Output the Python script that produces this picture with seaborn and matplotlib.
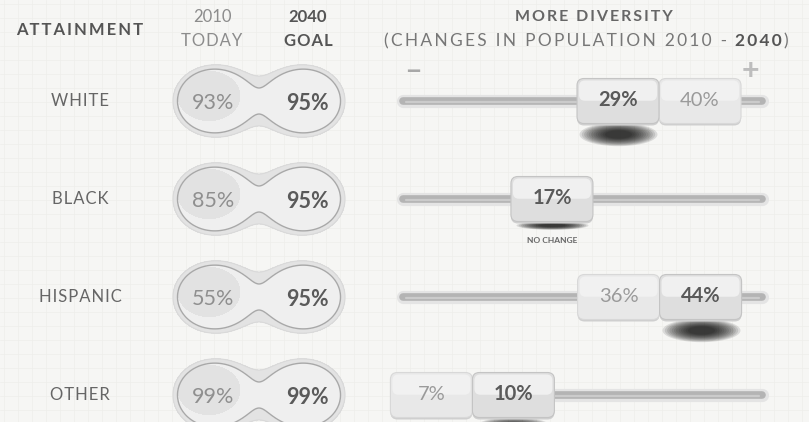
import numpy as np
import pandas as pd
import matplotlib
matplotlib.use("Agg")
import matplotlib.pyplot as plt
from matplotlib.patches import FancyBboxPatch
from matplotlib.path import Path
import seaborn as sns

groups = ["WHITE", "BLACK", "HISPANIC", "OTHER"]
attain_2010 = [93, 85, 55, 99]
attain_2040 = [95, 95, 95, 99]
share_2010 = [40, 17, 36, 7]
share_2040 = [29, 17, 44, 10]

df = pd.DataFrame({"group": groups, "att10": attain_2010, "att40": attain_2040,
                   "sh10": share_2010, "sh40": share_2040})

sns.set_theme(style="white")
plt.rcParams["font.family"] = ["Lato", "DejaVu Sans"]

W, H = 809, 422
fig = plt.figure(figsize=(W / 100, H / 100), dpi=100)
fig.patch.set_facecolor("#f6f6f4")

ax = fig.add_axes([0, 0, 1, 1])
ax.set_xlim(0, W)
ax.set_ylim(H, 0)
ax.axis("off")

# faint graph paper texture
for g in np.arange(4, W, 14):
    ax.axvline(g, color="#eeeeeb", lw=0.5, zorder=0)
for g in np.arange(4, H, 14):
    ax.axhline(g, color="#eeeeeb", lw=0.5, zorder=0)

row_y = 101 + 98 * np.arange(len(groups))
renderer = fig.canvas.get_renderer()


def track(s, n=1):
    return ("\u200a" * n).join(s)


def rich_center(x, y, pieces, gaps, **kw):
    texts = [ax.text(0, y, s, weight=w, color=c, ha="left", va="center", **kw)
             for s, w, c in pieces]
    widths = [t.get_window_extent(renderer).width for t in texts]
    total = sum(widths) + sum(gaps)
    x0 = x - total / 2
    for i, t in enumerate(texts):
        t.set_x(x0)
        x0 += widths[i] + (gaps[i] if i < len(gaps) else 0)


# headers
ax.text(80, 30, track("ATTAINMENT", 2), ha="center", va="center", fontsize=12,
        weight="bold", color="#555555")
ax.text(212, 17, "2010", ha="center", va="center", fontsize=12, color="#8c8c8c")
ax.text(212, 41, track("TODAY"), ha="center", va="center", fontsize=12, color="#8c8c8c")
ax.text(308, 17, "2040", ha="center", va="center", fontsize=12, weight="bold", color="#555555")
ax.text(308, 41, track("GOAL"), ha="center", va="center", fontsize=12, weight="bold", color="#555555")
ax.text(594, 17, track("MORE DIVERSITY", 2), ha="center", va="center", fontsize=11.5,
        weight="bold", color="#666666")
rich_center(586, 41, [(track("(CHANGES IN POPULATION 2010 -", 2), "normal", "#777777"),
                      (track("2040", 2), "bold", "#555555"), (")", "normal", "#777777")],
            [8, 2], fontsize=12.5)

# row labels
for y, g in zip(row_y, groups):
    ax.text(80, y, track(g), ha="center", va="center", fontsize=12, color="#666666")


# figure-eight pills (metaball outline)
def pill(cx, cy):
    c1, c2, a, b = cx - 46, cx + 46, 35.5, 31
    X, Y = np.meshgrid(np.linspace(cx - 100, cx + 100, 500), np.linspace(cy - 50, cy + 50, 250))
    f = 1 / (((X - c1) / a) ** 2 + ((Y - cy) / b) ** 2 + 1e-6) + \
        1 / (((X - c2) / a) ** 2 + ((Y - cy) / b) ** 2 + 1e-6)
    ax.contourf(X, Y, f, levels=[0.86, 1e9], colors=["#e3e3e3"], zorder=2)
    ax.contour(X, Y, f, levels=[0.86], colors=["#d9d9d9"], linewidths=0.8, zorder=2)
    ax.contourf(X, Y, f, levels=[1.0775, 1e9], colors=["#efefef"], zorder=3)
    lobe = 1 / (((X - c1 + 4) / (a * 1.1)) ** 2 + ((Y - cy + 5) / b) ** 2 + 1e-6)
    ax.contourf(X, Y, np.where(f > 1.1, lobe, 0), levels=[1.6, 1e9], colors=["#e2e2e2"],
                zorder=3)
    ax.contour(X, Y, f, levels=[1.0775], colors=["#a8a8a8"], linewidths=1.0, zorder=4)
    return c1, c2


for y, r in zip(row_y, df.itertuples()):
    c1, c2 = pill(259, y)
    ax.text(c1, y + 2, f"{r.att10}%", ha="center", va="center", fontsize=15.5,
            color="#8f8f8f", zorder=5)
    ax.text(c2 + 2, y + 2, f"{r.att40}%", ha="center", va="center", fontsize=15.5,
            weight="bold", color="#5a5a5a", zorder=5)

# slider axes: x in population-share points
sax = fig.add_axes([400 / W, 0, 365 / W, 1])
lo, hi = -10.6, 55.7
sax.set_xlim(lo, hi)
sax.set_ylim(H, 0)
sax.axis("off")
sax.patch.set_alpha(0)
k = 365 / (hi - lo)        # pixels per share point
bw, bh = 82 / k, 45

ax.text(413, 72, "\u2212", ha="center", va="center", fontsize=20, weight="bold", color="#a8a8a8")
ax.text(750, 71, "+", ha="center", va="center", fontsize=22, weight="bold", color="#bdbdbd")

for y in row_y:
    sax.plot([lo + 0.5, hi - 0.5], [y, y], color="#e4e4e4", lw=9.5, solid_capstyle="round",
             zorder=1, clip_on=False)
    sax.plot([lo + 0.5, hi - 0.5], [y, y], color="#b4b4b4", lw=5.5, solid_capstyle="round",
             zorder=1, clip_on=False)
    sax.plot([lo + 1, hi - 1], [y + 1, y + 1], color="#cbcbcb", lw=1.6, zorder=1)

# soft shadows under the 2040 knobs
ell = np.linspace(0, 2 * np.pi, 60)
for r, y in zip(df.itertuples(), row_y):
    moved = r.sh10 != r.sh40
    flat = 0.3 if moved else 0.12
    marker = Path(np.column_stack([np.cos(ell), flat * np.sin(ell)]))
    width = 78 if moved else 72
    for wf in np.linspace(1.0, 0.35, 12):
        sns.scatterplot(x=[r.sh40], y=[y + bh / 2 + (10 if moved else 3)],
                        marker=marker, s=(width * wf * 0.72) ** 2, color="black",
                        alpha=0.11, linewidth=0, ax=sax, zorder=2, legend=False)


def knob(xc, y, strong, label):
    face = "#dedede" if strong else "#e8e8e8"
    top = "#f0f0f0" if strong else "#f1f1f1"
    edge = "#c4c4c4" if strong else "#d8d8d8"
    z = 6 if strong else 4
    style = f"round,pad=0,rounding_size={7 / k}"
    for p in [FancyBboxPatch((xc - bw / 2, y - bh / 2 + 2), bw, bh, boxstyle=style,
                             mutation_aspect=k, fc="#cfcfcf", ec="none", zorder=z),
              FancyBboxPatch((xc - bw / 2, y - bh / 2), bw, bh, boxstyle=style,
                             mutation_aspect=k, fc=face, ec=edge, lw=0.8, zorder=z),
              FancyBboxPatch((xc - bw / 2 + 2 / k, y - bh / 2 + 2), bw - 4 / k, bh * 0.45,
                             boxstyle=f"round,pad=0,rounding_size={6 / k}",
                             mutation_aspect=k, fc=top, ec="none", zorder=z)]:
        p.set_clip_on(False)
        sax.add_patch(p)
    sax.text(xc, y - 1, label, ha="center", va="center", fontsize=14.5,
             weight="bold" if strong else "normal",
             color="#5a5a5a" if strong else "#9a9a9a", zorder=z + 1)


for r, y in zip(df.itertuples(), row_y):
    if r.sh10 != r.sh40:
        side = 1 if r.sh10 > r.sh40 else -1
        knob(r.sh40 + side * bw, y, False, f"{r.sh10}%")
    knob(r.sh40, y, True, f"{r.sh40}%")
    if r.sh10 == r.sh40:
        sax.text(r.sh40, y + bh / 2 + 19, "NO CHANGE", ha="center", va="center",
                 fontsize=6, weight="bold", color="#666666")

fig.savefig("out.png", dpi=100, facecolor=fig.get_facecolor())
